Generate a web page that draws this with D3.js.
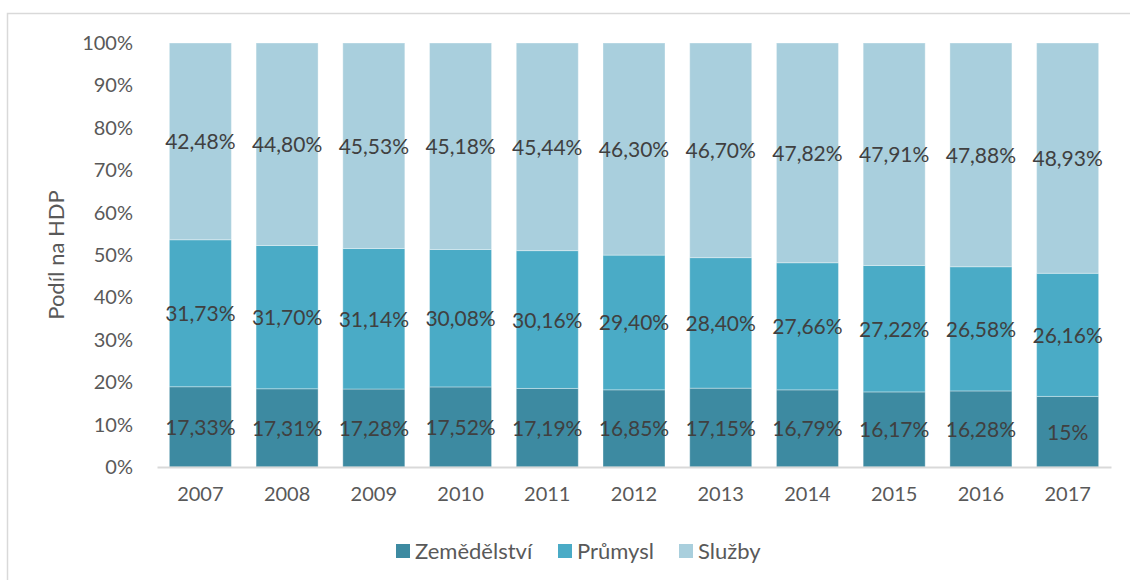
<!DOCTYPE html>
<html>
<head>
<meta charset="utf-8">
<script src="https://cdn.jsdelivr.net/npm/d3@7"></script>
<style>
  body { margin: 0; background: #fff; }
  svg { display: block; font-family: Lato, "Open Sans", sans-serif; }
</style>
</head>
<body>
<script>
// years on the x axis
const years = ['2007', '2008', '2009', '2010', '2011', '2012', '2013', '2014', '2015', '2016', '2017'];
// sector shares of GDP (data labels), stacked then normalised to 100 %
const zemedelstvi = [17.33, 17.31, 17.28, 17.52, 17.19, 16.85, 17.15, 16.79, 16.17, 16.28, 15];
const prumysl = [31.73, 31.70, 31.14, 30.08, 30.16, 29.40, 28.40, 27.66, 27.22, 26.58, 26.16];
const sluzby = [42.48, 44.80, 45.53, 45.18, 45.44, 46.30, 46.70, 47.82, 47.91, 47.88, 48.93];
const seriesNames = ['Zemědělství', 'Průmysl', 'Služby'];
const seriesColors = ['#3d8aa1', '#4aabc6', '#a9cfdd'];
const yTicks = [0, 0.1, 0.2, 0.3, 0.4, 0.5, 0.6, 0.7, 0.8, 0.9, 1];

const width = 1130, height = 580;
const margin = {top: 43, right: 19, bottom: 113, left: 157};

const svg = d3.select('body').append('svg')
    .attr('width', width)
    .attr('height', height);

// chart frame (only left and top edges fall inside the picture)
svg.append('rect')
    .attr('x', 7.5).attr('y', 13.5)
    .attr('width', width).attr('height', height)
    .attr('fill', 'none')
    .attr('stroke', '#d9d9d9')
    .attr('stroke-width', 1.5);

var rows = years.map(function(y, i) {
    return {year: y, 'Zemědělství': zemedelstvi[i], 'Průmysl': prumysl[i], 'Služby': sluzby[i]};
});

var stack = d3.stack()
    .keys(seriesNames)
    .offset(d3.stackOffsetExpand);
var layers = stack(rows);

var x = d3.scaleBand()
    .domain(years)
    .range([margin.left, width - margin.right])
    .paddingInner(0.285)
    .paddingOuter(0.1425);

var y = d3.scaleLinear()
    .domain([0, 1])
    .range([height - margin.bottom, margin.top]);

var color = d3.scaleOrdinal().domain(seriesNames).range(seriesColors);

function pct(v) {
    var s = Number.isInteger(v) ? String(v) : v.toFixed(2);
    return s.replace('.', ',') + '%';
}

// y axis labels
var yAxis = svg.append('g')
    .attr('transform', 'translate(' + (margin.left - 8) + ',0)')
    .call(d3.axisLeft(y).tickValues(yTicks).tickSize(0).tickPadding(16)
        .tickFormat(function(d) { return Math.round(d * 100) + '%'; }));
yAxis.select('.domain').remove();
yAxis.selectAll('text')
    .style('font-size', '20px')
    .style('fill', '#595959')
    .style('font-family', 'Lato, sans-serif');

// bars
var layer = svg.append('g').selectAll('g')
    .data(layers)
    .enter().append('g')
    .attr('fill', function(d) { return color(d.key); });

layer.selectAll('rect')
    .data(function(d) { return d; })
    .enter().append('rect')
    .attr('x', function(d) { return x(d.data.year); })
    .attr('y', function(d) { return y(d[1]); })
    .attr('width', x.bandwidth())
    .attr('height', function(d) { return y(d[0]) - y(d[1]); })
    .attr('stroke', '#ffffff')
    .attr('stroke-opacity', 0.35)
    .attr('stroke-width', 1);

// data labels
layer.each(function(s) {
    d3.select(this).selectAll('text')
        .data(s)
        .enter().append('text')
        .attr('x', function(d) { return x(d.data.year) + x.bandwidth() / 2; })
        .attr('y', function(d) { return (y(d[0]) + y(d[1])) / 2; })
        .attr('dy', '0.38em')
        .attr('text-anchor', 'middle')
        .style('font-size', '21px')
        .style('fill', '#404040')
        .text(function(d) { return pct(d.data[s.key]); });
});

// x axis
var xAxis = svg.append('g')
    .attr('transform', 'translate(0,' + (height - margin.bottom) + ')')
    .call(d3.axisBottom(x).tickSize(0).tickPadding(20));
xAxis.select('.domain')
    .attr('stroke', '#d9d9d9')
    .attr('stroke-width', 2);
xAxis.selectAll('text')
    .style('font-size', '20px')
    .style('fill', '#595959')
    .style('font-family', 'Lato, sans-serif');

// y axis title
svg.append('text')
    .attr('transform', 'translate(64,255) rotate(-90)')
    .attr('text-anchor', 'middle')
    .style('font-size', '22px')
    .style('fill', '#595959')
    .text('Podíl na HDP');

// legend
var legend = svg.append('g').attr('transform', 'translate(0,551)');
var legendX = [396, 558, 679];
seriesNames.forEach(function(name, i) {
    legend.append('rect')
        .attr('x', legendX[i]).attr('y', -7)
        .attr('width', 14).attr('height', 14)
        .attr('fill', seriesColors[i]);
    legend.append('text')
        .attr('x', legendX[i] + 19)
        .attr('y', 0)
        .attr('dy', '0.36em')
        .style('font-size', '22px')
        .style('fill', '#595959')
        .text(name);
});
</script>
</body>
</html>
